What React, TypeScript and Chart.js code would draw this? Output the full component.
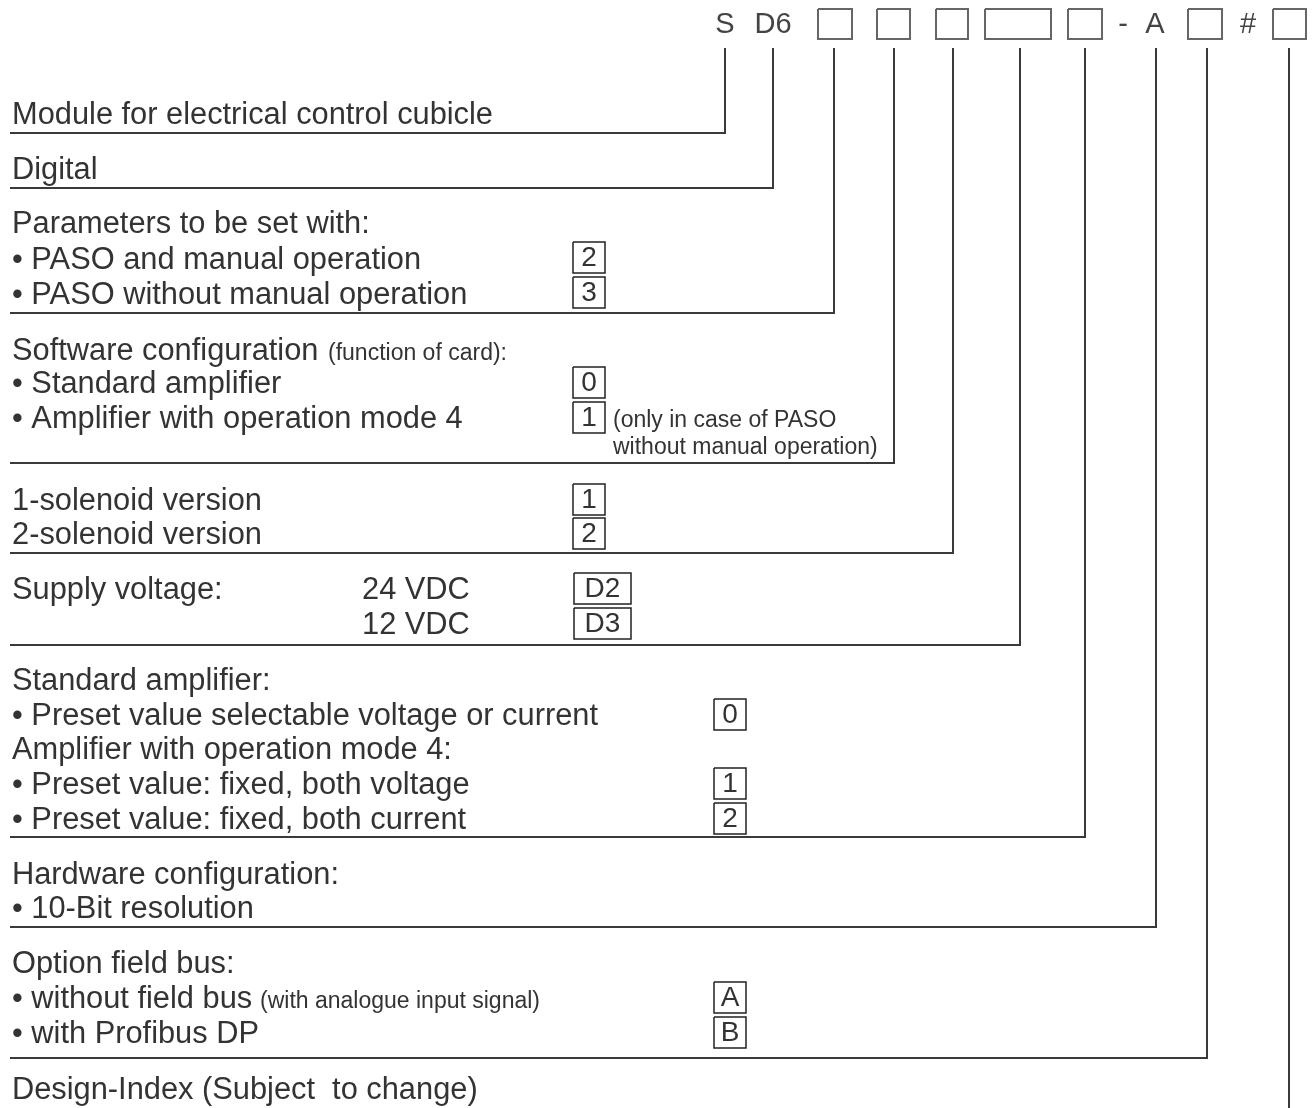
import React, { useEffect, useRef } from "react";
import { Chart, registerables } from "chart.js";

Chart.register(...registerables);

const W = 1313;
const H = 1108;

// Header of the ordering code
const headerLabels = ["S", "D6", "-", "A", "#"];
const headerLabelX = [725, 773, 1123, 1155, 1248];
const headerBoxX = [818, 877, 936, 985, 1068, 1188, 1273];
const headerBoxW = [34, 33, 32, 66, 34, 34, 33];
const headerBoxTop = 9;
const headerBoxH = 30;

// Connectors from each code position down to its description
const connectorX = [725, 773, 834, 894, 953, 1020, 1085, 1156, 1207, 1289];
const connectorEndY = [133, 188, 313, 463, 553, 645, 837, 927, 1058, 1108];
const connectorRule = [true, true, true, true, true, true, true, true, true, false];
const connectorTop = 48;
const ruleLeft = 10;

// Descriptions
const descTexts = [
  "Module for electrical control cubicle",
  "Digital",
  "Parameters to be set with:",
  "• PASO and manual operation",
  "• PASO without manual operation",
  "Software configuration",
  "(function of card):",
  "• Standard amplifier",
  "• Amplifier with operation mode 4",
  "(only in case of PASO",
  "without manual operation)",
  "1-solenoid version",
  "2-solenoid version",
  "Supply voltage:",
  "24 VDC",
  "12 VDC",
  "Standard amplifier:",
  "• Preset value selectable voltage or current",
  "Amplifier with operation mode 4:",
  "• Preset value: fixed, both voltage",
  "• Preset value: fixed, both current",
  "Hardware configuration:",
  "• 10-Bit resolution",
  "Option field bus:",
  "• without field bus",
  "(with analogue input signal)",
  "• with Profibus DP",
  "Design-Index (Subject  to change)",
];
const descX = [12, 12, 12, 12, 12, 12, 328, 12, 12, 613, 613, 12, 12, 12, 362, 362, 12, 12, 12, 12, 12, 12, 12, 12, 12, 260, 12, 12];
const descY = [124, 179, 233, 269, 304, 360, 360, 393, 428, 427, 454, 510, 544, 599, 599, 634, 690, 725, 759, 794, 829, 884, 918, 973, 1008, 1008, 1043, 1099];
const descSmall = [false, false, false, false, false, false, true, false, false, true, true, false, false, false, false, false, false, false, false, false, false, false, false, false, false, true, false, false];

// Code values in boxes
const codeTexts = ["2", "3", "0", "1", "1", "2", "D2", "D3", "0", "1", "2", "A", "B"];
const codeX = [573, 573, 573, 573, 573, 573, 574, 574, 714, 714, 714, 714, 714];
const codeTop = [242, 277, 367, 402, 484, 518, 573, 608, 699, 768, 803, 982, 1017];
const codeW = [32, 32, 32, 32, 32, 32, 57, 57, 32, 32, 32, 32, 32];
const codeH = 31;

const FONT = '"Liberation Sans", Arial, Helvetica, sans-serif';
const TEXT_COLOR = "#333333";

function rect(x: number, y: number, w: number, h: number) {
  return [
    { x, y },
    { x: x + w, y },
    { x: x + w, y: y + h },
    { x, y: y + h },
    { x, y },
  ];
}

const textPlugin = {
  id: "textPlugin",
  afterDatasetsDraw(chart: any) {
    const ctx = chart.ctx;
    const sx = chart.scales.x;
    const sy = chart.scales.y;
    ctx.save();
    ctx.textBaseline = "alphabetic";
    // header
    ctx.textAlign = "center";
    ctx.font = `29px ${FONT}`;
    ctx.fillStyle = "#444444";
    headerLabels.forEach((t, i) => {
      ctx.fillText(t, sx.getPixelForValue(headerLabelX[i]), sy.getPixelForValue(33));
    });
    // descriptions
    ctx.fillStyle = TEXT_COLOR;
    ctx.textAlign = "left";
    descTexts.forEach((t, i) => {
      ctx.font = descSmall[i] ? `23px ${FONT}` : `30.8px ${FONT}`;
      ctx.fillText(t, sx.getPixelForValue(descX[i]), sy.getPixelForValue(descY[i]));
    });
    // codes
    ctx.textAlign = "center";
    ctx.textBaseline = "middle";
    ctx.font = `28px ${FONT}`;
    codeTexts.forEach((t, i) => {
      const cx = sx.getPixelForValue(codeX[i] + codeW[i] / 2);
      const cy = sy.getPixelForValue(codeTop[i] + codeH / 2 + 1);
      ctx.fillText(t, cx, cy);
    });
    ctx.restore();
  },
};

export default function App() {
  const ref = useRef<HTMLCanvasElement | null>(null);
  useEffect(() => {
    if (!ref.current) return;
    const datasets: any[] = [];
    connectorX.forEach((x, i) => {
      const pts = [
        { x, y: connectorTop },
        { x, y: connectorEndY[i] },
      ];
      if (connectorRule[i]) pts.push({ x: ruleLeft, y: connectorEndY[i] });
      datasets.push({
        data: pts,
        showLine: true,
        borderColor: "#3a3a3a",
        borderWidth: 2,
        pointRadius: 0,
        tension: 0,
        fill: false,
        borderJoinStyle: "miter",
      });
    });
    headerBoxX.forEach((x, i) => {
      datasets.push({
        data: rect(x, headerBoxTop, headerBoxW[i], headerBoxH),
        showLine: true,
        borderColor: "#666666",
        borderWidth: 2,
        pointRadius: 0,
        tension: 0,
        fill: false,
      });
    });
    codeTexts.forEach((_, i) => {
      datasets.push({
        data: rect(codeX[i], codeTop[i], codeW[i], codeH),
        showLine: true,
        borderColor: "#222222",
        borderWidth: 1.5,
        pointRadius: 0,
        tension: 0,
        fill: false,
      });
    });
    const chart = new Chart(ref.current, {
      type: "scatter",
      data: { datasets },
      options: {
        animation: false,
        responsive: false,
        maintainAspectRatio: false,
        layout: { padding: 0 },
        events: [],
        plugins: { legend: { display: false }, tooltip: { enabled: false } },
        scales: {
          x: { type: "linear", min: 0, max: W, display: false },
          y: { type: "linear", min: 0, max: H, reverse: true, display: false },
        },
      },
      plugins: [textPlugin],
    } as any);
    return () => chart.destroy();
  }, []);
  return (
    <div style={{ position: "absolute", left: 0, top: 0, width: W, height: H, background: "#ffffff" }}>
      <canvas ref={ref} width={W} height={H} style={{ width: W, height: H, display: "block" }} />
    </div>
  );
}
